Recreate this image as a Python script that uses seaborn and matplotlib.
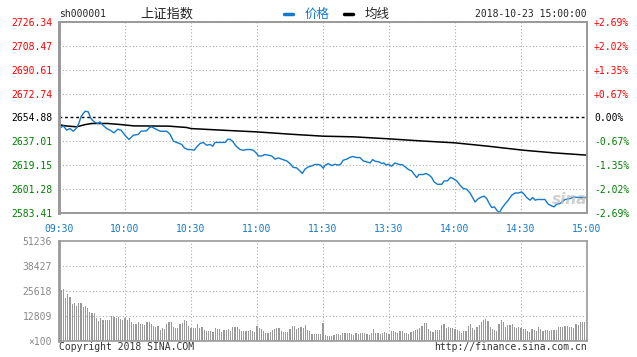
import matplotlib
matplotlib.use("Agg")
import matplotlib.pyplot as plt
from matplotlib.lines import Line2D
import seaborn as sns
import pandas as pd

# axis labels
price_ticks = [2726.34, 2708.47, 2690.61, 2672.74, 2654.88, 2637.01, 2619.15, 2601.28, 2583.41]
pct_labels = ["+2.69%", "+2.02%", "+1.35%", "+0.67%", "0.00%", "-0.67%", "-1.35%", "-2.02%", "-2.69%"]
time_ticks = [0, 30, 60, 90, 120, 150, 180, 210, 240]
time_labels = ["09:30", "10:00", "10:30", "11:00", "11:30", "13:30", "14:00", "14:30", "15:00"]
vol_ticks = [51236, 38427, 25618, 12809, 0]
vol_labels = ["51236", "38427", "25618", "12809", "\u00d7100"]
prev_close = 2654.88

# price line (minutes since 09:30, trading time only)
price_min = [0, 2, 3.5, 5, 6.5, 8, 9, 10, 11, 12, 13.3, 14.5, 16, 17.6, 18.6, 20, 21.7, 23.2, 25, 26.7,
             28.2, 30, 31.8, 33.8, 36, 37.3, 39.8, 41, 42, 43.6, 46, 49, 50.5, 52, 54, 55.8, 57, 58.5, 60, 61.4,
             62.6, 64.1, 65.6, 67.1, 68.6, 69.9, 70.9, 75.5, 76.7, 77.7, 78.9, 80.5, 82.3, 83.8, 85.3, 86.8, 88.3, 89.9, 90.6, 92.1,
             93.6, 95.1, 96.7, 98.2, 99.7, 101.2, 103.5, 105, 106.5, 108, 109.2, 110.6, 111.8, 113.3, 114.9, 116.4, 117.9, 118.9, 120.1, 121,
             122.4, 124, 125.5, 127, 128, 129.2, 130.8, 132, 133.5, 135.3, 136.8, 138.3, 139.9, 141.4, 142.6, 143.6, 145.6, 146.7, 147.7, 148.6,
             149.7, 151.2, 152.7, 154.2, 156.2, 157.7, 158.8, 160.3, 161.4, 162.6, 163.6, 165.6, 166.8, 168.3, 169.4, 170.5, 172, 174, 175, 176.5,
             178, 179.2, 180.8, 182.3, 183.8, 185.3, 186.8, 188, 189.1, 190.6, 192.1, 193.3, 194.4, 195.6, 196.7, 197.9, 199, 200.2, 201.2, 202.7,
             204.2, 205.8, 207.3, 208.8, 210.3, 211.4, 212.6, 214.1, 215.3, 216.4, 217.4, 220.9, 222.4, 224, 225, 226.2, 227.7, 230, 232.3, 234.1,
             236, 240]
price_val = [2646.6, 2648.6, 2645.4, 2646.6, 2644.6, 2647.1, 2650.4, 2655.3, 2657.9, 2659.6, 2659.1, 2654.1, 2651.6, 2650.4, 2651.6, 2649.1, 2646.6, 2645.4, 2643.4, 2646.1,
             2645.4, 2641.6, 2638.4, 2641.6, 2642.2, 2644.6, 2644.9, 2647.1, 2647.9, 2646.6, 2644.6, 2644.6, 2642.2, 2637.2, 2635.9, 2634.7, 2632.1, 2630.9, 2630.9, 2630.4,
             2632.9, 2635.4, 2636.2, 2634.1, 2634.7, 2633.4, 2636.2, 2636.2, 2638.6, 2638.6, 2637.1, 2633.4, 2630.9, 2630.4, 2630.9, 2630.9, 2630.4, 2627.9, 2626.1, 2626.1,
             2627.2, 2626.7, 2626.1, 2623.7, 2624.6, 2623.7, 2622.4, 2620.4, 2617.5, 2617.2, 2615.4, 2613.0, 2616.2, 2617.9, 2618.7, 2619.7, 2619.7, 2619.2, 2616.9, 2619.2,
             2620.4, 2618.9, 2619.9, 2619.2, 2619.9, 2622.9, 2623.7, 2624.9, 2625.7, 2624.9, 2624.9, 2622.4, 2621.6, 2620.9, 2623.4, 2622.2, 2621.6, 2620.4, 2620.9, 2619.2,
             2619.9, 2618.4, 2620.9, 2619.9, 2619.4, 2617.5, 2616.0, 2614.9, 2612.4, 2610.0, 2612.2, 2612.2, 2613.0, 2611.7, 2610.0, 2606.7, 2604.9, 2604.9, 2607.4, 2607.4,
             2610.0, 2609.2, 2607.4, 2604.2, 2601.7, 2601.2, 2598.4, 2595.0, 2591.7, 2594.2, 2595.4, 2596.0, 2594.2, 2590.5, 2587.5, 2588.0, 2585.5, 2583.5, 2586.8, 2590.0,
             2593.0, 2596.7, 2598.4, 2598.4, 2599.2, 2597.5, 2595.0, 2593.0, 2595.0, 2593.0, 2593.5, 2593.5, 2590.0, 2588.7, 2588.0, 2590.0, 2590.5, 2593.5, 2594.2, 2595.4,
             2595.0, 2595.0]

# average price line
avg_min = [0, 3, 8, 12, 15, 22, 28, 34, 50, 58, 60, 74, 90, 105, 120, 134, 150, 164, 180, 195, 211, 225, 240]
avg_val = [2649.5, 2648.6, 2647.9, 2649.6, 2650.4, 2650.4, 2649.6, 2648.6, 2648.4, 2647.4, 2646.6, 2645.4, 2644.1,
           2642.4, 2640.9, 2640.4, 2638.9, 2637.4, 2635.9, 2633.4, 2630.4, 2628.4, 2626.7]

# volume per minute (x100)
vol = [26100, 26100, 26600, 22200, 23900, 22400, 18800, 19300, 18100, 19500, 19500, 17600, 17900, 16700, 15000,
       14300, 14300, 11600, 10200, 12000, 10900, 10900, 10900, 10900, 12600, 12100, 11600, 12500, 11300, 10600,
       11600, 10900, 12000, 9900, 8900, 8500, 9600, 8900, 8500, 8200, 9600, 9900, 8500, 7900, 7300,
       7900, 5600, 6800, 6100, 8700, 9600, 9900, 7300, 6500, 6800, 8500, 9100, 10600, 10200, 7900,
       6800, 6800, 6800, 8500, 6800, 7200, 5600, 5100, 5100, 5100, 4800, 6800, 6100, 6100, 4800,
       5600, 5800, 6100, 5100, 7200, 7200, 7200, 6000, 5100, 5100, 5100, 5100, 5600, 5100, 4400,
       7900, 6500, 6000, 5100, 3900, 3900, 4800, 5600, 6100, 6500, 6800, 5100, 4800, 4400, 4800,
       6100, 7700, 7700, 6100, 6800, 7000, 6500, 8200, 5600, 5100, 3800, 3400, 3400, 3400, 3400,
       9200,
       3100, 2600, 2600, 2600, 3100, 3600, 3600, 3100, 4100, 4100, 4100, 4100, 3600, 3100, 3900,
       3600, 3900, 4100, 4100, 3600, 3100, 4100, 6100, 4100, 3900, 3600, 3900, 4600, 4100, 3400,
       5100, 5300, 4800, 4100, 5100, 5100, 3900, 3900, 3600, 4400, 5000, 5600, 6100, 6500, 7700,
       9100, 9100, 6100, 5100, 4400, 5500, 5600, 5600, 8200, 8700, 6500, 7200, 6800, 6500, 6100,
       5600, 5100, 4100, 5100, 5100, 7500, 8500, 6500, 5800, 7200, 8200, 9600, 10900, 11300, 10200,
       7200, 6100, 5500, 5100, 8500, 10600, 9900, 7200, 8200, 8200, 8500, 7200, 6500, 7200, 6800,
       6100, 6100, 5100, 4800, 6100, 5800, 5100, 7200, 6100, 5100, 5600, 5600, 5100, 5500, 5800,
       5800, 7200, 7200, 7200, 7900, 7500, 7200, 7200, 6800, 8500, 8200, 9700, 9900, 9700, 1000]
vol_min = list(range(len(vol)))

price_df = pd.DataFrame({"minute": price_min, "price": price_val})
avg_df = pd.DataFrame({"minute": avg_min, "avg": avg_val})

sns.set_style("white")
plt.rcParams["font.family"] = ["DejaVu Sans Mono"]

W, H = 637, 357
blue = "#1479c9"
red = "#ff0000"
green = "#008000"
frame = "#999999"
gridc = "#aaaaaa"

fig = plt.figure(figsize=(W / 100, H / 100), dpi=100)
ax = fig.add_axes([59 / W, 1 - 213 / H, 528 / W, 191 / H])
axv = fig.add_axes([59 / W, 1 - 341 / H, 528 / W, 100 / H])

# price panel
sns.lineplot(data=avg_df, x="minute", y="avg", ax=ax, color="black", lw=1.1, sort=False, zorder=3)
sns.lineplot(data=price_df, x="minute", y="price", ax=ax, color=blue, lw=1.0, sort=False, zorder=4)
ax.axhline(prev_close, color="black", lw=1.0, ls=(0, (2, 2)), zorder=2)
for p in price_ticks:
    if p != prev_close:
        ax.axhline(p, color=gridc, lw=0.8, ls=(0, (1, 2)), zorder=1)
for t in time_ticks[1:-1]:
    ax.axvline(t, color=gridc, lw=0.8, ls=(0, (1, 2)), zorder=1)

ax.set_xlim(0, 240)
ax.set_ylim(price_ticks[-1], price_ticks[0])
ax.set_yticks(price_ticks)
ax.set_yticklabels([f"{p:.2f}" for p in price_ticks])
ax.set_xticks(time_ticks)
ax.set_xticklabels(time_labels)
ax.set_xlabel("")
ax.set_ylabel("")
ax.tick_params(axis="both", length=0, labelsize=7)
ax.tick_params(axis="y", pad=5)
ax.tick_params(axis="x", pad=8, labelcolor=blue)

axr = ax.twinx()
axr.set_ylim(ax.get_ylim())
axr.set_yticks(price_ticks)
axr.set_yticklabels(pct_labels)
axr.tick_params(axis="y", length=0, labelsize=7, pad=5)

for i, (l1, l2) in enumerate(zip(ax.get_yticklabels(), axr.get_yticklabels())):
    c = red if i < 4 else ("black" if i == 4 else green)
    l1.set_color(c)
    l2.set_color(c)

for a in (ax, axr):
    for s in a.spines.values():
        s.set_color(frame)
        s.set_linewidth(1.2)
    a.spines["left"].set_linewidth(2)

# volume panel
axv.bar(vol_min, vol, width=0.5, color="#999999", linewidth=0, zorder=2, antialiased=False)
for v in vol_ticks[1:-1]:
    axv.axhline(v, color=gridc, lw=0.8, ls=(0, (1, 2)), zorder=1)
for t in time_ticks[1:-1]:
    axv.axvline(t, color=gridc, lw=0.8, ls=(0, (1, 2)), zorder=1)
axv.set_xlim(0, 240)
axv.set_ylim(0, vol_ticks[0])
axv.set_yticks(vol_ticks)
axv.set_yticklabels(vol_labels)
axv.set_xticks([])
axv.tick_params(axis="y", length=0, labelsize=7, pad=5, labelcolor="#888888")
for s in axv.spines.values():
    s.set_color(frame)
    s.set_linewidth(1.2)
axv.spines["left"].set_linewidth(2)

# header
ty = 1 - 14 / H
fig.text(59 / W, ty, "sh000001", size=7, va="center")
fig.text(140 / W, ty, "上证指数", size=9.5, va="center", family=["Noto Sans CJK SC", "DejaVu Sans"])
fig.add_artist(Line2D([284 / W, 293 / W], [ty, ty], color=blue, lw=2.5))
fig.text(305 / W, ty, "价格", size=9, va="center", color=blue, family=["Noto Sans CJK SC", "DejaVu Sans"])
fig.add_artist(Line2D([344 / W, 353 / W], [ty, ty], color="black", lw=2.5))
fig.text(365 / W, ty, "均线", size=9, va="center", family=["Noto Sans CJK SC", "DejaVu Sans"])
fig.text(587 / W, ty, "2018-10-23 15:00:00", size=7, va="center", ha="right")

# footer
fy = 1 - 347 / H
fig.text(59 / W, fy, "Copyright 2018 SINA.COM", size=7, va="center", color="#333333")
fig.text(587 / W, fy, "http://finance.sina.com.cn", size=7, va="center", ha="right", color="#333333")

# watermark
fig.text(570 / W, 1 - 200 / H, "sina", size=11, style="italic", weight="bold",
         color="#bbbbbb", alpha=0.7, ha="center", va="center", family="DejaVu Sans")

fig.savefig("out.png", dpi=100)
